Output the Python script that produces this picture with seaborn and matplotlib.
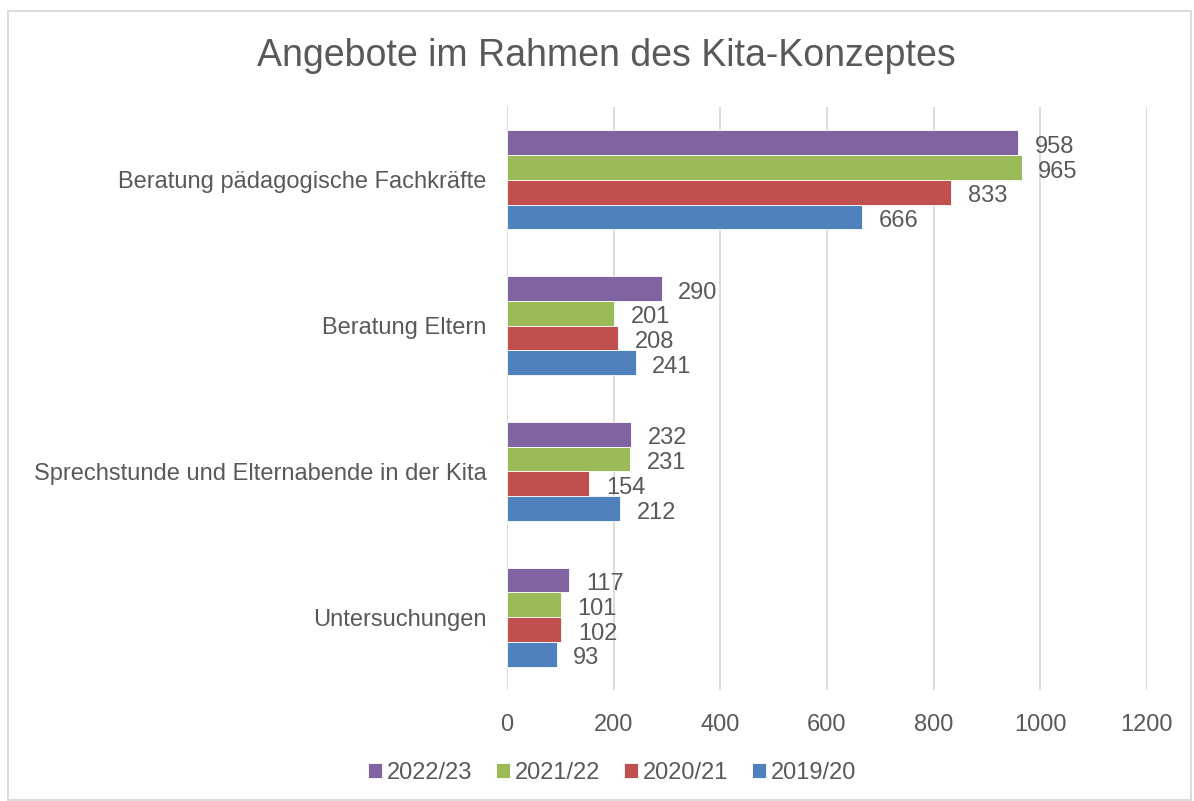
import pandas as pd
import matplotlib
matplotlib.use("Agg")
import matplotlib.pyplot as plt
from matplotlib.patches import Rectangle
import seaborn as sns

# Daten
categories = [
    'Beratung pädagogische Fachkräfte',
    'Beratung Eltern',
    'Sprechstunde und Elternabende in der Kita',
    'Untersuchungen',
]
years = ['2022/23', '2021/22', '2020/21', '2019/20']
values_2022_23 = [958, 290, 232, 117]
values_2021_22 = [965, 201, 231, 101]
values_2020_21 = [833, 208, 154, 102]
values_2019_20 = [666, 241, 212, 93]
x_ticks = [0, 200, 400, 600, 800, 1000, 1200]

COLORS = {
    '2022/23': '#8064A2',
    '2021/22': '#9BBB59',
    '2020/21': '#C0504D',
    '2019/20': '#4F81BD',
}
TEXT = '#595959'
GRID = '#d9d9d9'

series = dict(zip(years, [values_2022_23, values_2021_22, values_2020_21, values_2019_20]))
rows = []
for year in years:
    for cat, val in zip(categories, series[year]):
        rows.append({'Kategorie': cat, 'Jahr': year, 'Anzahl': val})
df = pd.DataFrame(rows)

sns.set_theme(style="white")
plt.rcParams['font.family'] = ['Liberation Sans', 'DejaVu Sans']

fig = plt.figure(figsize=(11.94, 8.01), dpi=100)
ax = fig.add_axes([507 / 1194, 1 - 690 / 801, 640 / 1194, 583 / 801])

sns.barplot(data=df, y='Kategorie', x='Anzahl', hue='Jahr',
            order=categories, hue_order=years, palette=COLORS,
            orient='h', width=0.68, saturation=1, edgecolor='white',
            linewidth=0.6, errorbar=None, ax=ax)

# Datenbeschriftungen etwas tiefer, wie in Excel
for container in ax.containers:
    for t in ax.bar_label(container, padding=12, fontsize=17, color=TEXT):
        t.xyann = (12, -3)

ax.set_xlim(0, 1200)
ax.set_xticks(x_ticks)
ax.grid(axis='x', color=GRID, linewidth=1.3)
ax.grid(axis='y', visible=False)
ax.set_axisbelow(True)
for s in ax.spines.values():
    s.set_visible(False)
ax.tick_params(axis='x', length=4, width=1.3, color=GRID, labelsize=17,
               labelcolor=TEXT, pad=13)
ax.tick_params(axis='y', length=0, labelsize=17, labelcolor=TEXT, pad=14.5)
ax.set_xlabel('')
ax.set_ylabel('')

handles, labels = ax.get_legend_handles_labels()
ax.legend_.remove()
fig.legend(handles, labels, loc='center', bbox_to_anchor=(612 / 1194, 1 - 773 / 801),
           ncol=4, frameon=False, fontsize=17, labelcolor=TEXT,
           handlelength=0.6, handleheight=0.6, handletextpad=0.2,
           columnspacing=1.0)

fig.text(606 / 1194, 1 - 56 / 801, 'Angebote im Rahmen des Kita-Konzeptes',
         ha='center', va='center', fontsize=27, color=TEXT)

fig.patches.append(Rectangle((8 / 1194, 1 / 801), 1183 / 1194, 789 / 801,
                             transform=fig.transFigure, fill=False,
                             edgecolor=GRID, linewidth=1.3))

fig.savefig('out.png', dpi=100)
